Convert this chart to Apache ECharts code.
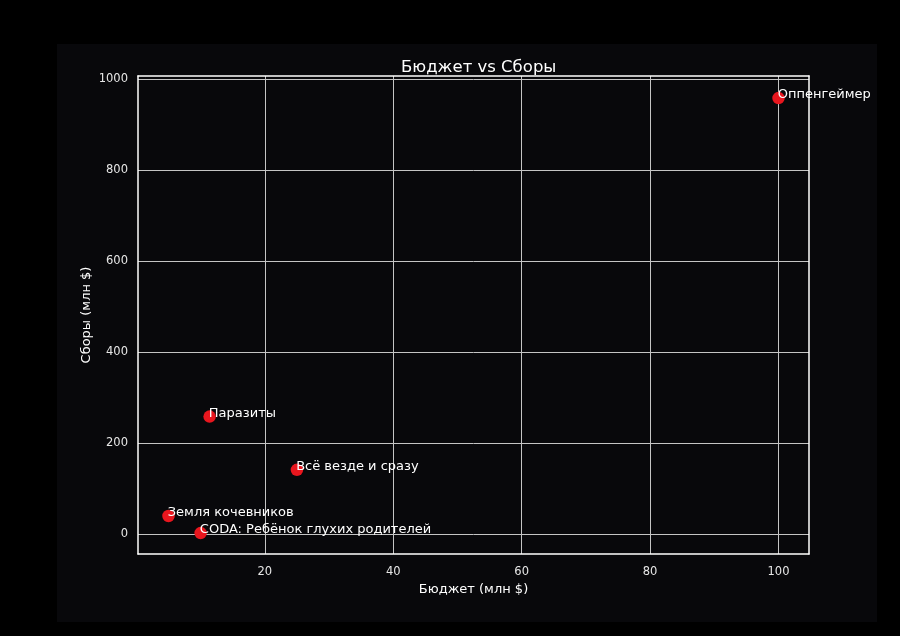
<!DOCTYPE html>
<html>
<head>
<meta charset="utf-8">
<script src="https://cdn.jsdelivr.net/npm/echarts@6/dist/echarts.min.js"></script>
<style>
  html, body { margin: 0; padding: 0; background: #000; }
  #chart { width: 900px; height: 636px; }
</style>
</head>
<body>
<div id="chart"></div>
<script>
// Films: budget vs box office, millions of dollars
const films = ['Оппенгеймер', 'Паразиты', 'Всё везде и сразу', 'Земля кочевников', 'CODA: Ребёнок глухих родителей'];
const budgets = [100, 11.4, 25, 5, 10];
const grosses = [958, 258, 141, 39.5, 1.9];
const xTicks = [20, 40, 60, 80, 100];
const yTicks = [0, 200, 400, 600, 800, 1000];

const points = films.map((name, i) => ({ name: name, value: [budgets[i], grosses[i]] }));

const font = 'DejaVu Sans';
const spine = { show: true, onZero: false, lineStyle: { color: '#ffffff', width: 1.5 } };
const chart = echarts.init(document.getElementById('chart'), null, { renderer: 'canvas' });

chart.setOption({
  backgroundColor: '#000',
  animation: false,
  graphic: [{
    type: 'rect',
    z: -10,
    shape: { x: 57, y: 44, width: 820, height: 578 },
    style: { fill: '#08080b' },
    silent: true
  }],
  title: {
    text: 'Бюджет vs Сборы',
    left: 396,
    top: 54,
    textStyle: { color: '#ffffff', fontFamily: font, fontSize: 16.5, fontWeight: 'normal' }
  },
  grid: { left: 138, right: 91, top: 76, bottom: 82, containLabel: false },
  xAxis: [{
    type: 'value',
    min: 0.25,
    max: 104.75,
    name: 'Бюджет (млн $)',
    nameLocation: 'middle',
    nameGap: 29,
    nameTextStyle: { color: '#ffffff', fontFamily: font, fontSize: 13 },
    axisLine: spine,
    axisTick: { show: false, customValues: xTicks },
    axisLabel: { color: '#e6e6e6', fontFamily: font, fontSize: 11.5, margin: 12, customValues: xTicks },
    splitLine: { show: true, lineStyle: { color: '#c4c4c4', width: 1 } }
  }, {
    // top spine
    type: 'value',
    position: 'top',
    min: 0.25,
    max: 104.75,
    axisLine: spine,
    axisTick: { show: false },
    axisLabel: { show: false },
    splitLine: { show: false }
  }],
  yAxis: [{
    type: 'value',
    min: -44,
    max: 1006.5,
    name: 'Сборы (млн $)',
    nameLocation: 'middle',
    nameGap: 45,
    nameMoveOverlap: false,
    nameRotate: 90,
    nameTextStyle: { color: '#ffffff', fontFamily: font, fontSize: 13 },
    axisLine: spine,
    axisTick: { show: false, customValues: yTicks },
    axisLabel: {
      color: '#e6e6e6', fontFamily: font, fontSize: 11.5, margin: 10,
      customValues: yTicks, formatter: v => String(v)
    },
    splitLine: { show: true, lineStyle: { color: '#c4c4c4', width: 1 } }
  }, {
    // right spine
    type: 'value',
    position: 'right',
    min: -44,
    max: 1006.5,
    axisLine: spine,
    axisTick: { show: false },
    axisLabel: { show: false },
    splitLine: { show: false }
  }],
  series: [{
    type: 'scatter',
    xAxisIndex: 0,
    yAxisIndex: 0,
    data: points,
    symbolSize: 12.5,
    itemStyle: { color: '#e8161e', opacity: 1 },
    label: {
      show: true,
      formatter: p => p.name,
      position: [5.5, 3.25],
      align: 'left',
      verticalAlign: 'middle',
      color: '#ffffff',
      fontFamily: font,
      fontSize: 13
    },
    labelLayout: { hideOverlap: false }
  }]
});
</script>
</body>
</html>
